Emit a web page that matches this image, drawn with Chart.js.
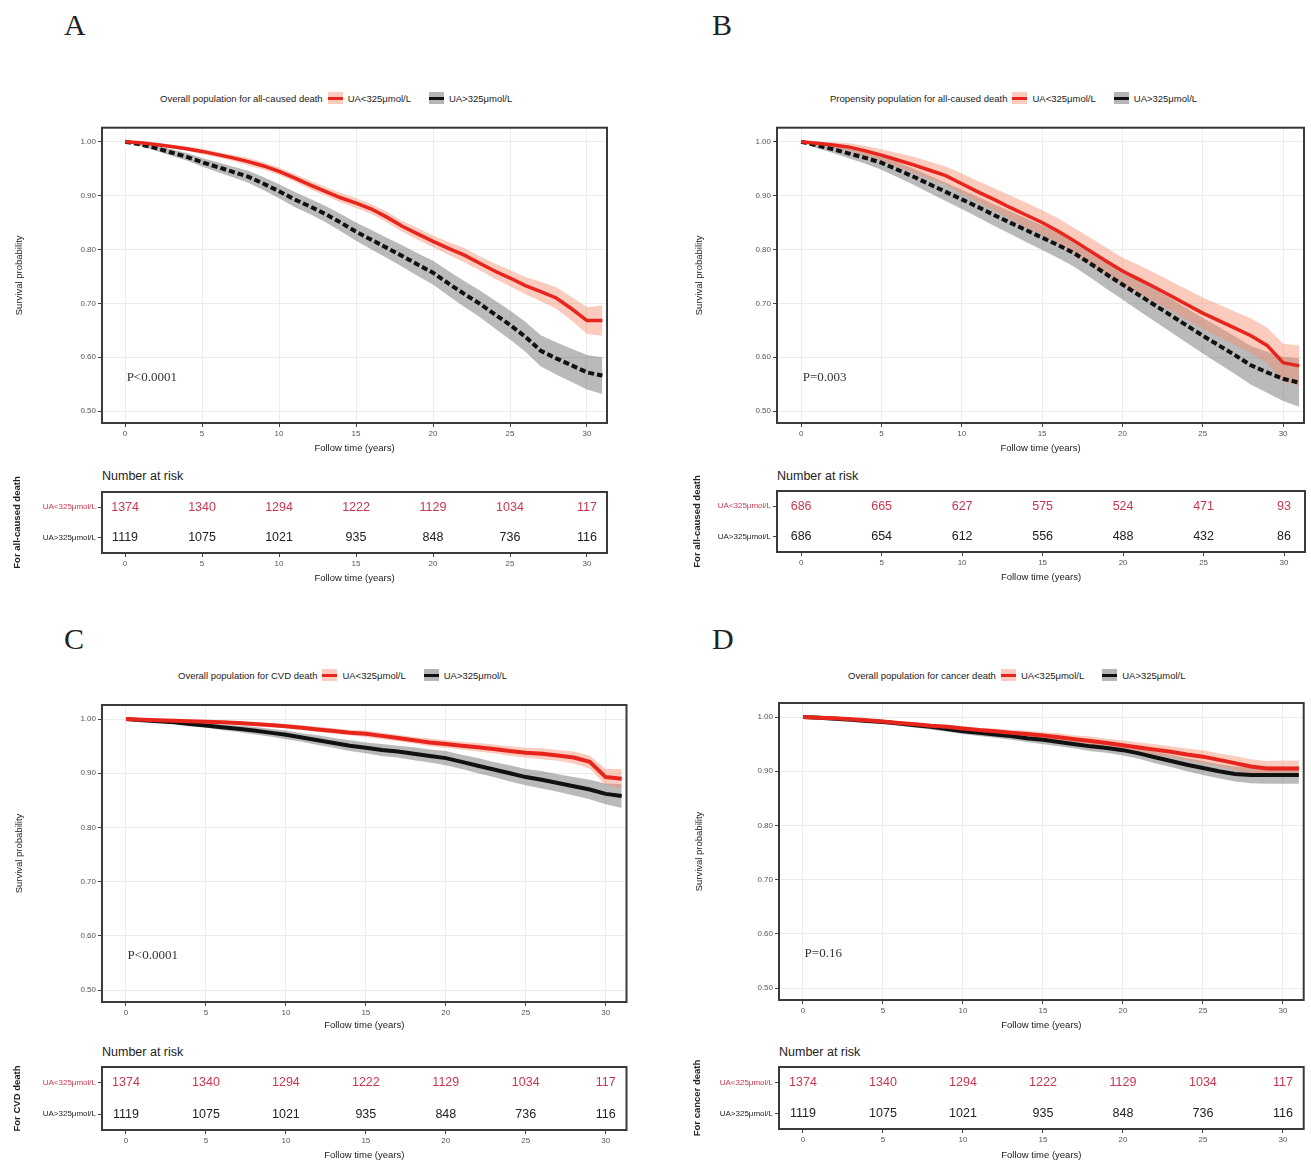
<!DOCTYPE html>
<html>
<head>
<meta charset="utf-8">
<script src="https://cdn.jsdelivr.net/npm/chart.js@4.4.0/dist/chart.umd.min.js"></script>
<style>
body { margin: 0; background: #fff; }
#page { position: relative; width: 1311px; height: 1163px; overflow: hidden; font-family: 'Liberation Sans', Arial, sans-serif; color: #222; }
canvas { position: absolute; }
.letter { position: absolute; font-family: 'Liberation Serif', serif; font-size: 30px; line-height: 1; }
.legend { position: absolute; display: flex; align-items: center; font-size: 9.5px; white-space: nowrap; height: 14px; }
.sw { display: inline-block; width: 15px; height: 12px; position: relative; margin: 0 5px; }
.sw i { position: absolute; left: 0; right: 0; top: 4.5px; height: 3px; }
.sw.red { background: rgba(246,140,110,0.45); }
.sw.red i { background: #e8251c; }
.sw.black { background: rgba(90,90,90,0.45); margin-left: 18px; }
.sw.black i { background: #111; }
.nrisk { position: absolute; font-size: 12.5px; }
</style>
</head>
<body>
<div id="page">
  <div class="letter" style="left:64px;top:10px">A</div>
  <div class="letter" style="left:712px;top:10px">B</div>
  <div class="letter" style="left:64px;top:624px">C</div>
  <div class="letter" style="left:712px;top:624px">D</div>

  <div class="legend" style="left:160px;top:91px">Overall population for all-caused death<span class="sw red"><i></i></span>UA&lt;325μmol/L<span class="sw black"><i></i></span>UA&gt;325μmol/L</div>
  <div class="legend" style="left:830px;top:91px">Propensity population for all-caused death<span class="sw red"><i></i></span>UA&lt;325μmol/L<span class="sw black"><i></i></span>UA&gt;325μmol/L</div>
  <div class="legend" style="left:178px;top:668px">Overall population for CVD death<span class="sw red"><i></i></span>UA&lt;325μmol/L<span class="sw black"><i></i></span>UA&gt;325μmol/L</div>
  <div class="legend" style="left:848px;top:668px">Overall population for cancer death<span class="sw red"><i></i></span>UA&lt;325μmol/L<span class="sw black"><i></i></span>UA&gt;325μmol/L</div>

  <div class="nrisk" style="left:102px;top:469px">Number at risk</div>
  <div class="nrisk" style="left:777px;top:469px">Number at risk</div>
  <div class="nrisk" style="left:102px;top:1045px">Number at risk</div>
  <div class="nrisk" style="left:779px;top:1045px">Number at risk</div>

  <canvas id="kmA"></canvas><canvas id="riskA"></canvas>
  <canvas id="kmB"></canvas><canvas id="riskB"></canvas>
  <canvas id="kmC"></canvas><canvas id="riskC"></canvas>
  <canvas id="kmD"></canvas><canvas id="riskD"></canvas>
</div>
<script>
const years = [0,1,2,3,4,5,6,7,8,9,10,11,12,13,14,15,16,17,18,19,20,21,22,23,24,25,26,27,28,29,30,31];
const tickYears = [0,5,10,15,20,25,30];
const survTicks = [0.5,0.6,0.7,0.8,0.9,1.0];
const groupLabels = ['UA<325μmol/L','UA>325μmol/L'];

// A: overall population, all-caused death
const redA    = [1.000,0.998,0.995,0.991,0.987,0.982,0.976,0.970,0.963,0.955,0.945,0.933,0.920,0.908,0.896,0.886,0.875,0.860,0.843,0.829,0.815,0.802,0.790,0.775,0.760,0.747,0.733,0.722,0.710,0.690,0.668,0.668];
const redA_lo = [1.000,0.997,0.993,0.988,0.983,0.977,0.971,0.964,0.956,0.948,0.938,0.926,0.912,0.900,0.887,0.877,0.866,0.850,0.833,0.818,0.804,0.790,0.777,0.762,0.746,0.732,0.717,0.704,0.690,0.668,0.643,0.640];
const redA_hi = [1.000,0.999,0.997,0.994,0.991,0.987,0.981,0.976,0.970,0.962,0.952,0.940,0.928,0.916,0.905,0.895,0.884,0.870,0.853,0.840,0.826,0.814,0.803,0.788,0.774,0.762,0.749,0.740,0.730,0.712,0.693,0.696];
const blackA    = [1.000,0.995,0.988,0.980,0.972,0.962,0.953,0.944,0.935,0.922,0.908,0.893,0.880,0.866,0.850,0.833,0.818,0.803,0.788,0.772,0.757,0.737,0.718,0.700,0.680,0.660,0.638,0.612,0.598,0.585,0.572,0.566];
const blackA_lo = [1.000,0.992,0.983,0.974,0.965,0.954,0.944,0.934,0.924,0.910,0.895,0.879,0.866,0.851,0.834,0.816,0.800,0.784,0.768,0.751,0.735,0.714,0.694,0.675,0.654,0.633,0.610,0.583,0.568,0.554,0.540,0.532];
const blackA_hi = [1.000,0.998,0.993,0.986,0.979,0.970,0.962,0.954,0.946,0.934,0.921,0.907,0.894,0.881,0.866,0.850,0.836,0.822,0.808,0.793,0.779,0.760,0.742,0.725,0.706,0.687,0.666,0.641,0.628,0.616,0.604,0.600];

// B: propensity population, all-caused death
const redB    = [1.000,0.997,0.994,0.990,0.983,0.975,0.966,0.957,0.947,0.937,0.922,0.907,0.893,0.878,0.864,0.850,0.834,0.816,0.797,0.778,0.760,0.745,0.730,0.714,0.698,0.682,0.668,0.654,0.640,0.622,0.590,0.584];
const redB_lo = [1.000,0.994,0.989,0.983,0.974,0.964,0.953,0.942,0.931,0.920,0.903,0.887,0.872,0.856,0.841,0.827,0.810,0.792,0.772,0.753,0.735,0.719,0.703,0.687,0.670,0.653,0.638,0.623,0.608,0.589,0.555,0.546];
const redB_hi = [1.000,1.000,0.999,0.997,0.992,0.986,0.979,0.972,0.963,0.954,0.941,0.927,0.914,0.900,0.887,0.873,0.858,0.840,0.822,0.803,0.785,0.771,0.757,0.741,0.726,0.711,0.698,0.685,0.672,0.655,0.625,0.622];
const blackB    = [1.000,0.993,0.986,0.978,0.970,0.961,0.948,0.935,0.921,0.907,0.893,0.879,0.864,0.850,0.836,0.822,0.808,0.793,0.774,0.754,0.735,0.716,0.697,0.678,0.659,0.640,0.622,0.604,0.585,0.572,0.560,0.553];
const blackB_lo = [1.000,0.988,0.979,0.969,0.959,0.948,0.934,0.920,0.905,0.890,0.875,0.860,0.844,0.829,0.814,0.799,0.784,0.768,0.748,0.727,0.707,0.687,0.667,0.647,0.627,0.607,0.588,0.569,0.549,0.534,0.519,0.508];
const blackB_hi = [1.000,0.998,0.993,0.987,0.981,0.974,0.962,0.950,0.937,0.924,0.911,0.898,0.884,0.871,0.858,0.845,0.832,0.818,0.800,0.781,0.763,0.745,0.727,0.709,0.691,0.673,0.656,0.639,0.621,0.610,0.601,0.598];

// C: overall population, CVD death
const redC    = [1.000,0.999,0.998,0.997,0.996,0.995,0.994,0.993,0.991,0.989,0.987,0.984,0.981,0.978,0.975,0.973,0.969,0.965,0.961,0.957,0.954,0.951,0.948,0.945,0.941,0.938,0.936,0.933,0.929,0.921,0.893,0.890];
const redC_lo = [1.000,0.998,0.997,0.995,0.994,0.993,0.991,0.990,0.988,0.985,0.983,0.980,0.976,0.973,0.970,0.967,0.963,0.959,0.955,0.950,0.947,0.944,0.940,0.937,0.932,0.929,0.926,0.923,0.918,0.909,0.878,0.872];
const redC_hi = [1.000,1.000,0.999,0.999,0.998,0.997,0.997,0.996,0.994,0.993,0.991,0.988,0.986,0.983,0.980,0.979,0.975,0.971,0.967,0.964,0.961,0.958,0.956,0.953,0.950,0.947,0.946,0.943,0.940,0.933,0.908,0.908];
const blackC    = [1.000,0.998,0.996,0.994,0.991,0.988,0.985,0.982,0.979,0.975,0.971,0.966,0.961,0.956,0.951,0.947,0.943,0.940,0.936,0.932,0.928,0.921,0.914,0.907,0.900,0.893,0.888,0.882,0.876,0.870,0.862,0.858];
const blackC_lo = [1.000,0.997,0.994,0.991,0.987,0.984,0.980,0.976,0.972,0.968,0.963,0.958,0.952,0.947,0.941,0.937,0.932,0.929,0.924,0.920,0.915,0.908,0.900,0.893,0.885,0.878,0.872,0.866,0.859,0.852,0.843,0.836];
const blackC_hi = [1.000,0.999,0.998,0.997,0.995,0.992,0.990,0.988,0.986,0.982,0.979,0.974,0.970,0.965,0.961,0.957,0.954,0.951,0.948,0.944,0.941,0.934,0.928,0.921,0.915,0.908,0.904,0.898,0.893,0.888,0.881,0.880];

// D: overall population, cancer death
const redD    = [1.000,0.999,0.998,0.996,0.994,0.992,0.989,0.987,0.984,0.982,0.979,0.976,0.974,0.971,0.969,0.966,0.963,0.959,0.956,0.952,0.948,0.944,0.940,0.936,0.931,0.927,0.921,0.915,0.909,0.905,0.905,0.905];
const redD_lo = [1.000,0.998,0.997,0.995,0.992,0.990,0.987,0.984,0.981,0.978,0.975,0.972,0.969,0.966,0.963,0.960,0.956,0.952,0.948,0.944,0.939,0.935,0.930,0.926,0.920,0.915,0.909,0.902,0.896,0.891,0.890,0.890];
const redD_hi = [1.000,1.000,0.999,0.998,0.996,0.994,0.992,0.990,0.987,0.986,0.983,0.980,0.979,0.976,0.975,0.972,0.970,0.966,0.964,0.960,0.957,0.953,0.950,0.946,0.942,0.939,0.933,0.928,0.922,0.919,0.920,0.920];
const blackD    = [1.000,0.999,0.997,0.995,0.993,0.991,0.988,0.985,0.982,0.978,0.974,0.971,0.968,0.965,0.961,0.958,0.954,0.950,0.946,0.943,0.939,0.933,0.926,0.919,0.912,0.906,0.900,0.895,0.893,0.893,0.893,0.893];
const blackD_lo = [1.000,0.998,0.995,0.993,0.990,0.988,0.984,0.981,0.977,0.973,0.969,0.965,0.962,0.958,0.954,0.950,0.946,0.942,0.937,0.934,0.929,0.923,0.915,0.908,0.900,0.893,0.887,0.881,0.878,0.877,0.877,0.877];
const blackD_hi = [1.000,1.000,0.999,0.997,0.996,0.994,0.992,0.989,0.987,0.983,0.979,0.977,0.974,0.972,0.968,0.966,0.962,0.958,0.955,0.952,0.949,0.943,0.937,0.930,0.924,0.919,0.913,0.909,0.908,0.909,0.909,0.909];

// numbers at risk at tickYears (C and D use the same overall population as A)
const riskRedA   = [1374,1340,1294,1222,1129,1034,117];
const riskBlackA = [1119,1075,1021,935,848,736,116];
const riskRedB   = [686,665,627,575,524,471,93];
const riskBlackB = [686,654,612,556,488,432,86];

const pValues = { A: 'P<0.0001', B: 'P=0.003', C: 'P<0.0001', D: 'P=0.16' };
const pPos = [0.1, 0.563];

const RED = '#e8251c';
const RED_TXT = '#c8374f';
const xMin = -1.5, xMax = 31.3, yMin = 0.478, yMax = 1.026;

const frame = {
    id: 'frame',
    afterDraw(c) {
        const a = c.chartArea, ctx = c.ctx;
        ctx.save();
        ctx.strokeStyle = '#3a3a3a';
        ctx.lineWidth = 2;
        ctx.strokeRect(a.left, a.top, a.right - a.left, a.bottom - a.top);
        ctx.restore();
    }
};

const pLabel = {
    id: 'pLabel',
    afterDatasetsDraw(c, args, opts) {
        if (!opts.text) return;
        const ctx = c.ctx;
        ctx.save();
        ctx.font = '13px "Liberation Serif", serif';
        ctx.fillStyle = '#333';
        ctx.textBaseline = 'middle';
        ctx.fillText(opts.text, c.scales.x.getPixelForValue(pPos[0]), c.scales.y.getPixelForValue(pPos[1]));
        ctx.restore();
    }
};

const riskText = {
    id: 'riskText',
    afterDatasetsDraw(c) {
        const ctx = c.ctx;
        ctx.save();
        ctx.font = '12.5px "Liberation Sans", Arial, sans-serif';
        ctx.textAlign = 'center';
        ctx.textBaseline = 'middle';
        c.data.datasets.forEach((ds, i) => {
            ctx.fillStyle = ds.textColor;
            c.getDatasetMeta(i).data.forEach((p, j) => ctx.fillText(String(ds.counts[j]), p.x, p.y));
        });
        ctx.restore();
    }
};

function place(id, b) {
    const el = document.getElementById(id);
    el.width = b.w; el.height = b.h;
    el.style.left = b.left + 'px'; el.style.top = b.top + 'px';
    return el;
}

function xAxis(grid, h) {
    return {
        type: 'linear', min: xMin, max: xMax,
        afterBuildTicks: s => { s.ticks = tickYears.map(v => ({ value: v })); },
        afterFit: s => { s.height = h; },
        grid: { display: true, drawOnChartArea: grid, color: '#ececec', tickLength: 4, tickColor: '#444' },
        border: { display: false },
        ticks: { autoSkip: false, maxRotation: 0, padding: 2, color: '#555', font: { size: 8 } },
        title: { display: true, text: 'Follow time (years)', color: '#222', font: { size: 9.5 }, padding: { top: 2, bottom: 2 } }
    };
}

function pts(arr) { return years.map((t, i) => ({ x: t, y: arr[i] })); }

function kmChart(id, b, s, dashed, pText) {
    const line = { pointRadius: 0, fill: false, tension: 0 };
    new Chart(place(id, b), {
        type: 'line',
        data: {
            datasets: [
                { ...line, data: pts(s.red), borderColor: RED, borderWidth: dashed ? 3.5 : 4 },
                { ...line, data: pts(s.black), borderColor: '#111', borderWidth: 4, borderDash: dashed ? [6, 3] : [] },
                { ...line, data: pts(s.redHi), borderWidth: 0, fill: '+1', backgroundColor: 'rgba(246,140,110,0.45)' },
                { ...line, data: pts(s.redLo), borderWidth: 0 },
                { ...line, data: pts(s.blackHi), borderWidth: 0, fill: '+1', backgroundColor: 'rgba(90,90,90,0.42)' },
                { ...line, data: pts(s.blackLo), borderWidth: 0 }
            ]
        },
        options: {
            responsive: false, animation: false, events: [],
            layout: { padding: b.pad },
            scales: {
                x: xAxis(true, b.xH),
                y: {
                    type: 'linear', min: yMin, max: yMax,
                    afterBuildTicks: sc => { sc.ticks = survTicks.map(v => ({ value: v })); },
                    afterFit: sc => { sc.width = b.yW; },
                    grid: { color: '#ececec', tickLength: 4, tickColor: '#444' },
                    border: { display: false },
                    ticks: { padding: 2, color: '#555', font: { size: 8 }, callback: v => v.toFixed(2) },
                    title: { display: true, text: 'Survival probability', color: '#222', font: { size: 9.5 }, padding: { top: 2, bottom: 2 } }
                }
            },
            plugins: {
                legend: { display: false }, tooltip: { enabled: false },
                filler: { drawTime: 'beforeDatasetsDraw' },
                pLabel: { text: pText }
            }
        },
        plugins: [frame, pLabel]
    });
}

function riskChart(id, b, redCounts, blackCounts, yTitle) {
    new Chart(place(id, b), {
        type: 'scatter',
        data: {
            datasets: [
                { data: tickYears.map(t => ({ x: t, y: groupLabels[0] })), counts: redCounts, textColor: RED_TXT, pointRadius: 0 },
                { data: tickYears.map(t => ({ x: t, y: groupLabels[1] })), counts: blackCounts, textColor: '#222', pointRadius: 0 }
            ]
        },
        options: {
            responsive: false, animation: false, events: [],
            layout: { padding: b.pad },
            scales: {
                x: xAxis(false, b.xH),
                y: {
                    type: 'category', labels: groupLabels, offset: true,
                    afterFit: sc => { sc.width = b.yW; },
                    grid: { display: true, drawOnChartArea: false, tickLength: 4, tickColor: '#444' },
                    border: { display: false },
                    ticks: { padding: 2, font: { size: 8 }, color: c => c.index === 0 ? RED_TXT : '#222' },
                    title: { display: true, text: yTitle, color: '#222', font: { size: 9.5, weight: 'bold' }, padding: { top: 0, bottom: 0 } }
                }
            },
            plugins: { legend: { display: false }, tooltip: { enabled: false } }
        },
        plugins: [frame, riskText]
    });
}

kmChart('kmA', { left: 0, top: 110, w: 620, h: 350, pad: { left: 12, top: 17.7, right: 13, bottom: 4 }, xH: 33, yW: 90 },
    { red: redA, redLo: redA_lo, redHi: redA_hi, black: blackA, blackLo: blackA_lo, blackHi: blackA_hi }, true, pValues.A);
riskChart('riskA', { left: 0, top: 462, w: 620, h: 130, pad: { left: 12, top: 30, right: 13, bottom: 6 }, xH: 33, yW: 90 },
    riskRedA, riskBlackA, 'For all-caused death');

kmChart('kmB', { left: 680, top: 110, w: 631, h: 350, pad: { left: 12, top: 17.7, right: 7, bottom: 4 }, xH: 33, yW: 85 },
    { red: redB, redLo: redB_lo, redHi: redB_hi, black: blackB, blackLo: blackB_lo, blackHi: blackB_hi }, true, pValues.B);
riskChart('riskB', { left: 680, top: 462, w: 631, h: 130, pad: { left: 12, top: 29, right: 6, bottom: 7 }, xH: 33, yW: 85 },
    riskRedB, riskBlackB, 'For all-caused death');

kmChart('kmC', { left: 0, top: 688, w: 640, h: 350, pad: { left: 12, top: 17, right: 13.5, bottom: 5 }, xH: 31, yW: 90 },
    { red: redC, redLo: redC_lo, redHi: redC_hi, black: blackC, blackLo: blackC_lo, blackHi: blackC_hi }, false, pValues.C);
riskChart('riskC', { left: 0, top: 1037, w: 640, h: 126, pad: { left: 12, top: 30, right: 13.5, bottom: 0 }, xH: 33, yW: 90 },
    riskRedA, riskBlackA, 'For CVD death');

kmChart('kmD', { left: 680, top: 688, w: 631, h: 350, pad: { left: 12, top: 15, right: 7.3, bottom: 5 }, xH: 33, yW: 87 },
    { red: redD, redLo: redD_lo, redHi: redD_hi, black: blackD, blackLo: blackD_lo, blackHi: blackD_hi }, false, pValues.D);
riskChart('riskD', { left: 680, top: 1037, w: 631, h: 126, pad: { left: 12, top: 30, right: 7.3, bottom: 0 }, xH: 34, yW: 87 },
    riskRedA, riskBlackA, 'For cancer death');
</script>
</body>
</html>
